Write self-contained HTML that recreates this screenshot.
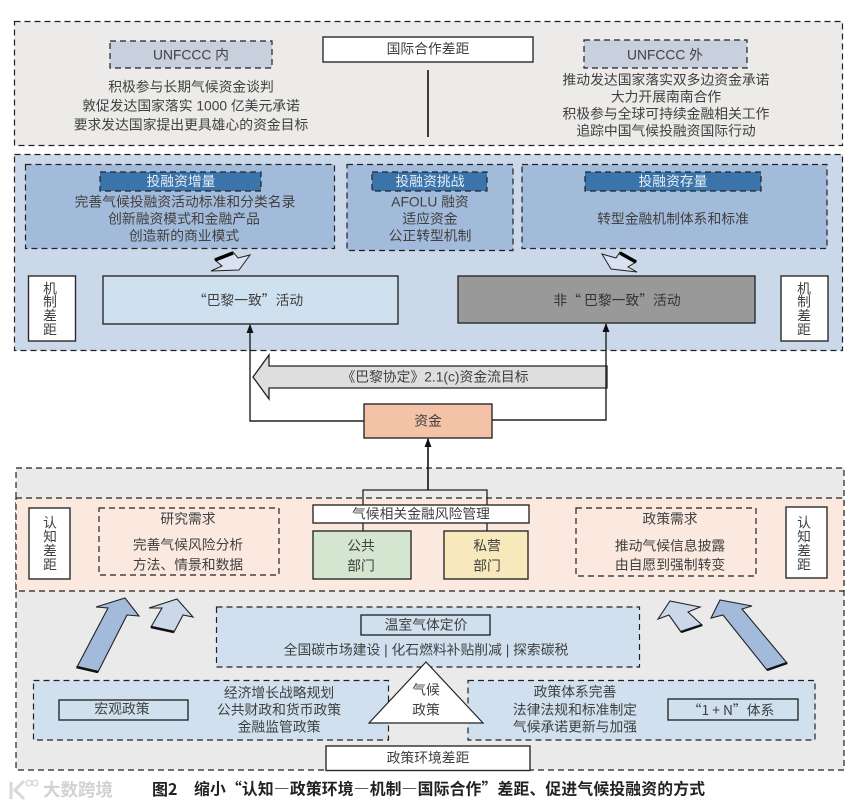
<!DOCTYPE html>
<html lang="zh-CN"><head><meta charset="utf-8"><style>
html,body{margin:0;padding:0;background:#fff}
svg{display:block}
text{font-family:"Liberation Sans","Noto Sans CJK SC",sans-serif;font-size:13.8px;fill:#404040;text-anchor:middle;dominant-baseline:central}
text.c{font-family:"Noto Sans CJK SC",sans-serif}
.d{stroke:#222;stroke-width:1.2;stroke-dasharray:6 4}
.s{stroke:#2b2b2b;stroke-width:1.4}
.w{fill:#fff}
</style></head><body>
<svg width="859" height="807" viewBox="0 0 859 807" xmlns="http://www.w3.org/2000/svg">
<defs><marker id="a" markerWidth="9" markerHeight="7" refX="8" refY="3.5" orient="auto" markerUnits="userSpaceOnUse"><path d="M0 0L9 3.5L0 7Z" fill="#111"/></marker></defs>

<!-- international -->
<rect x="14.5" y="21.5" width="828" height="124" fill="#ecebe9" class="d"/>
<rect x="323" y="37" width="210" height="25" class="w s"/>
<text x="428" y="49">国际合作差距</text>
<line x1="428" y1="70" x2="428" y2="137" stroke="#111" stroke-width="1.6"/>
<rect x="110" y="41" width="162" height="27" fill="#c8cfdd" class="d"/>
<text x="191" y="55">UNFCCC 内</text>
<text x="191" y="87">积极参与长期气候资金谈判</text>
<text x="191" y="106">敦促发达国家落实 1000 亿美元承诺</text>
<text x="191" y="125">要求发达国家提出更具雄心的资金目标</text>
<rect x="584" y="40" width="163" height="28" fill="#c8cfdd" class="d"/>
<text x="665" y="55">UNFCCC 外</text>
<text x="666" y="80">推动发达国家落实双多边资金承诺</text>
<text x="666" y="97">大力开展南南合作</text>
<text x="666" y="114">积极参与全球可持续金融相关工作</text>
<text x="666" y="131">追踪中国气候投融资国际行动</text>

<!-- mechanism -->
<rect x="14.5" y="154.5" width="828" height="196" fill="#cbd8ea" class="d"/>
<rect x="25.5" y="164.5" width="309" height="84" fill="#a3bbdb" class="d"/>
<rect x="347" y="164.5" width="166" height="86" fill="#a3bbdb" class="d"/>
<rect x="522" y="164.5" width="305" height="84" fill="#a3bbdb" class="d"/>
<rect x="100" y="172" width="161" height="19" fill="#3a74ab" class="d"/>
<rect x="372" y="172" width="115" height="19" fill="#3a74ab" class="d"/>
<rect x="585" y="172" width="176" height="19" fill="#3a74ab" class="d"/>
<text x="181" y="181.500" style="fill:#e8eef6">投融资增量</text>
<text x="430" y="181.500" style="fill:#e8eef6">投融资挑战</text>
<text x="673" y="181.500" style="fill:#e8eef6">投融资存量</text>
<text x="185" y="202">完善气候投融资活动标准和分类名录</text>
<text x="184" y="219">创新融资模式和金融产品</text>
<text x="184" y="236">创造新的商业模式</text>
<text x="430" y="202">AFOLU 融资</text>
<text x="430" y="219">适应资金</text>
<text x="430" y="236">公正转型机制</text>
<text x="673" y="219">转型金融机制体系和标准</text>

<polygon points="215,260 233,252 238,258 250,255 239,270 211,271 222,266" fill="#d8e2f0" stroke="#222" stroke-width="1"/>
<line x1="215" y1="260" x2="233" y2="253" stroke="#000" stroke-width="3.500"/>
<polygon points="602,254 616,258 620,252 636,262 628,267 637,272 611,269" fill="#d8e2f0" stroke="#222" stroke-width="1"/>
<line x1="620" y1="253" x2="636" y2="262" stroke="#000" stroke-width="3.500"/>

<rect x="28.500" y="276" width="47" height="65" class="w s"/>
<text x="50" y="289">机</text><text x="50" y="302">制</text><text x="50" y="316">差</text><text x="50" y="330">距</text>
<rect x="781" y="276" width="47" height="65" class="w s"/>
<text x="804" y="289">机</text><text x="804" y="302">制</text><text x="804" y="316">差</text><text x="804" y="330">距</text>
<rect x="103" y="276" width="295" height="48" fill="#cfe0ef" class="s"/>
<text class="c" x="248" y="299">“巴黎一致”活动</text>
<rect x="458" y="276" width="297" height="47" class="s" style="fill:#999"/>
<text class="c" x="617" y="299" style="fill:#333">非“ 巴黎一致”活动</text>

<!-- big left arrow -->
<polygon points="253,377 269,355 269,366 607,366 607,388 269,388 269,399" fill="#dfdedf" stroke="#222" stroke-width="1.300"/>
<text x="435" y="377">《巴黎协定》2.1(c)资金流目标</text>

<polyline points="364,421 250,421 250,325" fill="none" stroke="#222" stroke-width="1.400" marker-end="url(#a)"/>
<polyline points="492,420 606,420 606,324" fill="none" stroke="#222" stroke-width="1.400" marker-end="url(#a)"/>
<rect x="364" y="404" width="128" height="34" fill="#f3c2a7" class="s"/>
<text x="428" y="421">资金</text>

<!-- cognition / policy -->
<rect x="16" y="468" width="828" height="302" fill="#ebeaea" class="d"/>
<rect x="16" y="498" width="828" height="93" fill="#fbe9df" class="d"/>
<line x1="428" y1="490" x2="428" y2="439" stroke="#111" stroke-width="1.600" marker-end="url(#a)"/>
<polyline points="363,505 363,490 487,490 487,505" fill="none" stroke="#222" stroke-width="1.300"/>
<line x1="363" y1="523" x2="363" y2="531" stroke="#222" stroke-width="1.300"/>
<line x1="487" y1="523" x2="487" y2="531" stroke="#222" stroke-width="1.300"/>

<rect x="29" y="508" width="41" height="71" class="w s"/>
<text x="50" y="523">认</text><text x="50" y="537">知</text><text x="50" y="551">差</text><text x="50" y="565">距</text>
<rect x="786" y="507" width="41" height="71" class="w s"/>
<text x="804" y="523">认</text><text x="804" y="537">知</text><text x="804" y="551">差</text><text x="804" y="565">距</text>

<rect x="99" y="508" width="180" height="67" fill="none" class="d"/>
<text x="188" y="519">研究需求</text>
<text x="188" y="545">完善气候风险分析</text>
<text x="188" y="565">方法、情景和数据</text>
<rect x="576" y="508" width="180" height="68" fill="none" class="d"/>
<text x="670" y="519">政策需求</text>
<text x="670" y="546">推动气候信息披露</text>
<text x="670" y="565">由自愿到强制转变</text>

<rect x="313" y="505" width="216" height="18" class="w s"/>
<text x="421" y="514">气候相关金融风险管理</text>
<rect x="313" y="531" width="98" height="48" fill="#d5e6d0" class="s"/>
<text x="361" y="546">公共</text><text x="361" y="566">部门</text>
<rect x="444" y="531" width="84" height="48" fill="#f8e9bd" class="s"/>
<text x="487" y="546">私营</text><text x="487" y="566">部门</text>

<!-- block arrows -->
<polygon points="77,667 108,608 96,607 125,598 139,616 127,615 98,672" fill="#a3bbdb" stroke="#222" stroke-width="1.100"/>
<line x1="76.500" y1="667" x2="98" y2="672" stroke="#111" stroke-width="2.500"/>
<polygon points="151,627 162,608 149,608 177,599 193,617 183,615 174,632" fill="#cbd8ea" stroke="#222" stroke-width="1.100"/>
<line x1="151" y1="627" x2="174" y2="632" stroke="#111" stroke-width="2.500"/>
<polygon points="681,632 669,615 658,619 670,601 700,607 688,612 702,625" fill="#cbd8ea" stroke="#222" stroke-width="1.100"/>
<line x1="681" y1="632" x2="702" y2="625" stroke="#111" stroke-width="2.500"/>
<polygon points="767,670 723,615 711,618 720,600 752,606 742,609 787,663" fill="#a3bbdb" stroke="#222" stroke-width="1.100"/>
<line x1="767" y1="670" x2="787" y2="663" stroke="#111" stroke-width="2.500"/>

<rect x="216.500" y="607" width="423" height="60" fill="#d0e0ef" class="d"/>
<rect x="361" y="615" width="129" height="20" fill="#d0e0ef" class="s"/>
<text x="426" y="625">温室气体定价</text>
<text x="426" y="650">全国碳市场建设 | 化石燃料补贴削减 | 探索碳税</text>

<rect x="33.500" y="680.500" width="355" height="59.500" fill="#d0e0ef" class="d"/>
<rect x="59" y="700" width="129" height="20" fill="#d0e0ef" class="s"/>
<text x="122" y="709">宏观政策</text>
<text x="279" y="693">经济增长战略规划</text>
<text x="279" y="710">公共财政和货币政策</text>
<text x="279" y="727">金融监管政策</text>

<rect x="468" y="680.500" width="347" height="59.500" fill="#d0e0ef" class="d"/>
<rect x="668" y="699" width="130" height="21" fill="#d0e0ef" class="s"/>
<text class="c" x="731" y="709">“1 + N”体系</text>
<text x="575" y="692">政策体系完善</text>
<text x="575" y="710">法律法规和标准制定</text>
<text x="575" y="727">气候承诺更新与加强</text>

<polygon points="426,662 369,723 483,723" class="w" stroke="#222" stroke-width="1.200"/>
<text x="426" y="690">气候</text>
<text x="426" y="710">政策</text>

<rect x="326" y="746" width="204" height="24.500" class="w s"/>
<text x="428" y="758">政策环境差距</text>

<!-- watermark -->
<path d="M11 782V799M24 781L15 790L24 799" fill="none" stroke="#d8d8d8" stroke-width="3"/>
<circle cx="29" cy="783" r="2.800" fill="none" stroke="#d8d8d8" stroke-width="1.500"/>
<circle cx="35" cy="783" r="2.800" fill="none" stroke="#d8d8d8" stroke-width="1.500"/>
<text x="78" y="790" style="font-size:17.500px;fill:#d2d2d2;font-weight:700">大数跨境</text>

<!-- caption -->
<text class="c" x="152" y="788" style="text-anchor:start;font-size:16px;font-weight:700;fill:#222">图2</text>
<text class="c" x="194" y="788" textLength="511" lengthAdjust="spacing" style="text-anchor:start;font-size:15.800px;font-weight:700;fill:#222">缩小“认知—政策环境—机制—国际合作”差距、促进气候投融资的方式</text>
</svg>
</body></html>
